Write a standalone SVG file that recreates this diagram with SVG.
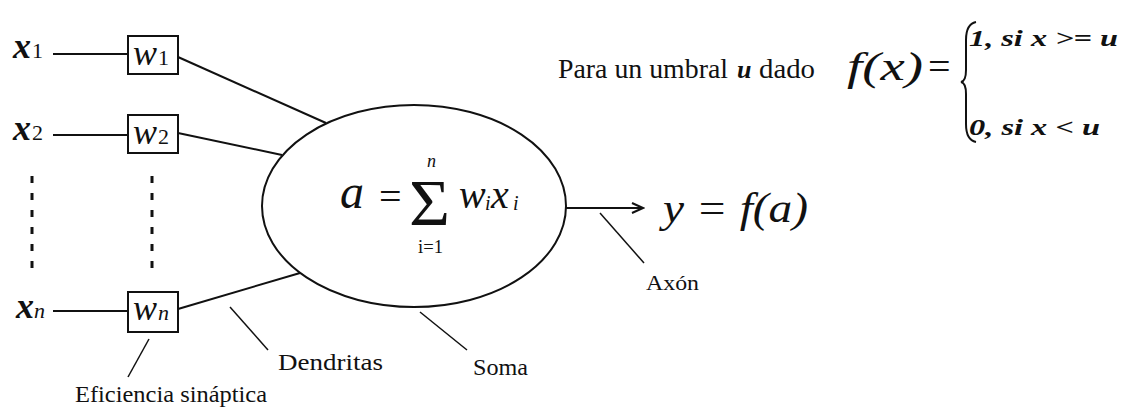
<svg xmlns="http://www.w3.org/2000/svg" width="1134" height="412" viewBox="0 0 1134 412">
<defs>
<style>
.ln{stroke:#111;stroke-width:2;fill:none}
.thin{stroke:#111;stroke-width:1.5;fill:none}
.dot{stroke:#111;stroke-width:3;stroke-dasharray:7 10;fill:none}
.box{stroke:#111;stroke-width:2;fill:#fff}
</style>
<marker id="arr" markerWidth="14" markerHeight="12" refX="12" refY="6" orient="auto" markerUnits="userSpaceOnUse">
<path d="M1,1 L12,6 L1,11" stroke="#111" stroke-width="2" fill="none"/>
</marker>
</defs>
<rect width="1134" height="412" fill="#fff"/>

<g id="connectors">
<line class="ln" x1="53" y1="54" x2="128" y2="54"/>
<line class="ln" x1="53" y1="135" x2="128" y2="135"/>
<line class="ln" x1="53" y1="311" x2="128" y2="311"/>
<line class="ln" x1="178" y1="57" x2="326" y2="123"/>
<line class="ln" x1="178" y1="133" x2="282" y2="155"/>
<line class="ln" x1="178" y1="309" x2="300" y2="273"/>
<line class="dot" x1="32" y1="176" x2="32" y2="268"/>
<line class="dot" x1="152" y1="176" x2="152" y2="268"/>
<line class="ln" x1="566" y1="208" x2="643" y2="208" marker-end="url(#arr)"/>
<line class="thin" x1="149" y1="339" x2="128" y2="377"/>
<line class="thin" x1="230" y1="307" x2="268" y2="350"/>
<line class="thin" x1="420" y1="312" x2="467" y2="350"/>
<line class="thin" x1="600" y1="213" x2="644" y2="263"/>
</g>

<g font-family="Liberation Serif, serif" fill="#111">
<g id="x1"><text font-style="italic" font-weight="bold" x="13" y="58" font-size="36">x</text><text x="32" y="58" font-size="22">1</text></g>
<g id="x2"><text font-style="italic" font-weight="bold" x="13" y="140" font-size="36">x</text><text x="32" y="140" font-size="22">2</text></g>
<g id="xn"><text font-style="italic" font-weight="bold" x="16" y="318" font-size="36">x</text><text font-style="italic" x="34" y="318" font-size="22">n</text></g>

<g id="w1"><rect class="box" x="128" y="36" width="50" height="38"/><text font-style="italic" x="133" y="65" font-size="36">w</text><text x="158" y="65" font-size="22">1</text></g>
<g id="w2"><rect class="box" x="128" y="115" width="50" height="38"/><text font-style="italic" x="133" y="144" font-size="36">w</text><text x="158" y="144" font-size="22">2</text></g>
<g id="wn"><rect class="box" x="128" y="292" width="50" height="40"/><text font-style="italic" x="133" y="320" font-size="36">w</text><text font-style="italic" x="158" y="320" font-size="22">n</text></g>

<g id="soma">
<ellipse class="ln" cx="414" cy="206" rx="152" ry="101"/>
<text font-style="italic" x="340" y="208" font-size="48">a</text>
<text x="379" y="210" font-size="40">=</text>
<text x="409" y="225" font-size="66" textLength="41" lengthAdjust="spacingAndGlyphs">Σ</text>
<text font-style="italic" x="427" y="167" font-size="18">n</text>
<text x="418" y="253" font-size="18" textLength="25" lengthAdjust="spacingAndGlyphs">i=1</text>
<text font-style="italic" x="459" y="208" font-size="40">w</text>
<text font-style="italic" x="485" y="210" font-size="20">i</text>
<text font-style="italic" x="491" y="208" font-size="40">x</text>
<text font-style="italic" x="513" y="210" font-size="20">i</text>
</g>

<g id="output"><text font-style="italic" x="663" y="222" font-size="42" textLength="145" lengthAdjust="spacingAndGlyphs">y = f(a)</text></g>

<g id="labels">
<text x="75" y="402" font-size="23" textLength="192" lengthAdjust="spacingAndGlyphs">Eficiencia sináptica</text>
<text x="278" y="370" font-size="24" textLength="105" lengthAdjust="spacingAndGlyphs">Dendritas</text>
<text x="473" y="375" font-size="24" textLength="55" lengthAdjust="spacingAndGlyphs">Soma</text>
<text x="646" y="290" font-size="22" textLength="53" lengthAdjust="spacingAndGlyphs">Axón</text>
</g>

<g id="threshold">
<text x="558" y="78" font-size="27" textLength="170" lengthAdjust="spacingAndGlyphs">Para un umbral</text>
<text font-style="italic" font-weight="bold" x="737" y="78" font-size="26">u</text>
<text x="759" y="78" font-size="27" textLength="56" lengthAdjust="spacingAndGlyphs">dado</text>
<text font-style="italic" x="847" y="80" font-size="40" textLength="76" lengthAdjust="spacingAndGlyphs">f(x)</text>
<text x="928" y="80" font-size="40">=</text>
<path class="ln" d="M976,22 Q966,24 966,40 L966,70 Q966,81 961,82 Q966,83 966,94 L966,124 Q966,140 976,142"/>
<text font-style="italic" font-weight="bold" x="969" y="46" font-size="24" textLength="149" lengthAdjust="spacingAndGlyphs">1,  si x &gt;= u</text>
<text font-style="italic" font-weight="bold" x="969" y="135" font-size="24" textLength="131" lengthAdjust="spacingAndGlyphs">0,  si x &lt; u</text>
</g>
</g>
</svg>
